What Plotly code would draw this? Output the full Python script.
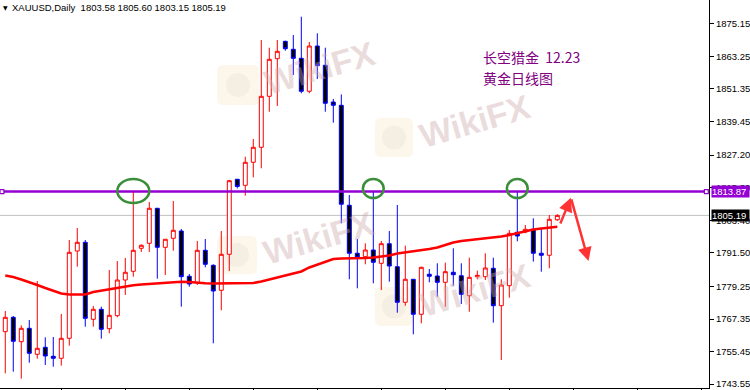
import plotly.graph_objects as go

# ---------------- data ----------------
title_text = "XAUUSD,Daily  1803.58 1805.60 1803.15 1805.19"
note_lines = ["长空猎金  12.23", "黄金日线图"]

opens = [1762.71, 1767.97, 1759.06, 1763.95, 1754.46, 1757.02, 1753.73, 1753.00, 1760.30, 1792.18,
         1795.36, 1767.24, 1770.89, 1763.81, 1768.56, 1781.59, 1784.77, 1793.17, 1795.00, 1807.78,
         1793.53, 1796.82, 1799.49, 1782.95, 1780.61, 1792.44, 1786.96, 1777.83, 1790.98, 1818.38,
         1816.17, 1824.58, 1830.06, 1848.68, 1862.41, 1868.76, 1865.85, 1862.56, 1850.52, 1867.05,
         1860.00, 1846.60, 1845.39, 1808.89, 1791.36, 1790.10, 1792.55, 1787.69, 1794.85, 1786.45,
         1773.45, 1781.85, 1769.07, 1783.68, 1783.05, 1780.75, 1784.41, 1783.16, 1775.86, 1782.80,
         1782.80, 1785.87, 1772.21, 1779.51, 1799.02, 1799.13, 1800.11, 1791.36, 1790.62, 1803.58]
highs = [1770.27, 1768.45, 1765.05, 1766.99, 1781.23, 1760.67, 1760.78, 1769.18, 1796.20, 1800.58,
         1796.20, 1772.10, 1771.84, 1785.25, 1788.53, 1789.63, 1813.80, 1794.60, 1810.08, 1807.90,
         1796.60, 1810.44, 1800.22, 1783.79, 1795.84, 1796.57, 1787.33, 1799.49, 1818.12, 1818.50,
         1826.62, 1833.09, 1869.23, 1866.43, 1869.23, 1868.98, 1871.07, 1877.75, 1868.51, 1871.69,
         1866.43, 1847.69, 1849.37, 1812.64, 1796.57, 1795.00, 1813.87, 1795.84, 1799.49, 1808.98,
         1794.12, 1781.90, 1786.45, 1785.61, 1787.69, 1787.91, 1793.17, 1787.69, 1789.74, 1784.99,
         1791.33, 1789.74, 1781.85, 1799.85, 1813.84, 1801.68, 1804.12, 1800.47, 1805.33, 1805.60]
lows = [1747.52, 1748.11, 1745.55, 1751.39, 1752.85, 1750.55, 1749.93, 1750.30, 1757.60, 1786.45,
        1764.54, 1764.54, 1760.16, 1762.13, 1767.97, 1776.12, 1782.80, 1791.84, 1791.84, 1782.07,
        1783.42, 1792.29, 1771.84, 1779.15, 1779.77, 1786.23, 1758.47, 1770.53, 1784.88, 1815.04,
        1812.38, 1819.09, 1822.39, 1843.06, 1845.14, 1865.33, 1856.47, 1849.79, 1849.79, 1855.01,
        1843.06, 1839.03, 1802.31, 1781.85, 1778.56, 1787.33, 1780.39, 1777.94, 1780.97, 1769.65,
        1772.21, 1761.76, 1765.78, 1780.75, 1775.50, 1771.84, 1779.51, 1772.83, 1770.02, 1781.85,
        1781.59, 1766.00, 1752.38, 1775.13, 1795.73, 1798.65, 1788.29, 1784.63, 1785.87, 1803.15]
closes = [1767.97, 1759.21, 1763.95, 1754.82, 1756.65, 1753.84, 1753.00, 1760.30, 1791.71, 1795.36,
          1767.61, 1770.89, 1763.59, 1768.70, 1781.59, 1784.41, 1792.44, 1794.26, 1807.78, 1793.53,
          1796.46, 1799.75, 1782.80, 1780.13, 1792.44, 1787.33, 1777.58, 1790.98, 1817.86, 1815.76,
          1824.58, 1830.06, 1848.68, 1862.19, 1865.11, 1866.06, 1862.56, 1850.52, 1867.05, 1859.86,
          1846.13, 1845.39, 1809.26, 1791.36, 1789.88, 1792.55, 1788.06, 1794.85, 1786.71, 1773.45,
          1781.85, 1769.07, 1786.23, 1782.95, 1780.75, 1784.63, 1783.53, 1776.37, 1782.58, 1783.31,
          1785.98, 1772.21, 1779.77, 1798.65, 1797.66, 1800.11, 1791.36, 1790.62, 1803.76, 1805.19]
ma_values = [1783.24, 1782.69, 1781.78, 1780.86, 1779.77, 1778.67, 1777.58, 1776.66, 1776.30, 1776.19,
             1776.30, 1777.21, 1777.76, 1778.20, 1778.85, 1779.40, 1779.69, 1779.95, 1780.13, 1780.39,
             1780.61, 1780.75, 1780.94, 1780.86, 1780.57, 1780.39, 1780.32, 1780.32, 1780.32, 1780.32,
             1780.39, 1780.50, 1781.05, 1781.78, 1782.32, 1783.05, 1783.97, 1784.70, 1786.16, 1787.25,
             1788.17, 1789.26, 1789.45, 1789.45, 1789.45, 1789.63, 1789.81, 1790.18, 1790.54, 1791.27,
             1791.64, 1792.00, 1792.37, 1792.91, 1793.46, 1794.38, 1795.29, 1795.84, 1796.20, 1796.49,
             1796.75, 1797.01, 1797.48, 1798.03, 1798.76, 1799.49, 1800.04, 1800.40, 1800.77, 1801.06]
candle_idx = list(range(len(opens)))

price_ticks = [1875.15, 1863.25, 1851.35, 1839.45, 1827.20, 1815.30, 1803.40,
               1791.50, 1779.25, 1767.35, 1755.45, 1743.55]
time_ticks = list(range(7, 88, 8))

resistance = 1813.87
last_price = 1805.19

# circles marking touches of resistance: (candle index, price centre, half-width idx, half-height price)
touch_marks = [(16, 1814.1, 2.0, 4.4), (46, 1815.0, 1.3, 3.5), (64, 1815.0, 1.3, 3.5)]
# projected path (candle index, price)
path_idx = [69.3, 70.7, 72.9]
path_price = [1801.7, 1811.6, 1788.5]

# ---------------- layout constants ----------------
W, H = 750, 390
ML, MR, MT, MB = 0, 41, 0, 2
PW, PH = W - ML - MR, H - MT - MB
X_RANGE = [-0.66, 87.96]
Y_RANGE = [1742.15, 1883.85]


def pp(px, py):
    return px / PW, 1 - py / PH


def rounded_rect(x0, y0, x1, y1, r):
    a = pp
    return ("M {} {} L {} {} Q {} {} {} {} L {} {} Q {} {} {} {} L {} {} Q {} {} {} {} L {} {} Q {} {} {} {} Z"
            .format(*a(x0 + r, y0), *a(x1 - r, y0), *a(x1, y0), *a(x1, y0 + r),
                    *a(x1, y1 - r), *a(x1, y1), *a(x1 - r, y1),
                    *a(x0 + r, y1), *a(x0, y1), *a(x0, y1 - r),
                    *a(x0, y0 + r), *a(x0, y0), *a(x0 + r, y0)))


fig = go.Figure()

fig.add_trace(go.Candlestick(
    x=candle_idx, open=opens, high=highs, low=lows, close=closes,
    increasing=dict(line=dict(color="#FF0000", width=1), fillcolor="#FFFFFF"),
    decreasing=dict(line=dict(color="#0000FF", width=1), fillcolor="#000000"),
    whiskerwidth=0, showlegend=False, hoverinfo="skip",
))

fig.add_trace(go.Scatter(
    x=candle_idx, y=ma_values, mode="lines",
    line=dict(color="#FF0000", width=2.5), showlegend=False, hoverinfo="skip",
))

shapes = []
annotations = []

# watermarks (logo box + text)
wm_logos = [(217, 65, 259, 105), (375, 118, 413, 157), (217, 236, 257, 274), (375, 287, 413, 326)]
for (x0, y0, x1, y1) in wm_logos:
    shapes.append(dict(type="path", xref="paper", yref="paper", layer="below",
                       path=rounded_rect(x0, y0, x1, y1, 6),
                       fillcolor="rgba(248,225,175,0.25)", line=dict(width=0)))
    cx, cy = (x0 + x1) / 2, (y0 + y1) / 2
    ax0, ay0 = pp(cx - 12, cy - 12)
    ax1, ay1 = pp(cx + 12, cy + 12)
    shapes.append(dict(type="circle", xref="paper", yref="paper", layer="below",
                       x0=ax0, y0=ay1, x1=ax1, y1=ay0,
                       fillcolor="rgba(190,170,170,0.12)", line=dict(width=0)))
    tx, ty = pp(cx + 81, cy - 17)
    annotations.append(dict(xref="paper", yref="paper", x=tx, y=ty, xanchor="center", yanchor="middle",
                            text="<b>WikiFX</b>", showarrow=False, textangle=-16,
                            font=dict(family="Liberation Sans", size=34, color="rgba(205,170,170,0.42)")))

# horizontal lines
shapes.append(dict(type="line", xref="paper", yref="y", x0=0, x1=1, y0=last_price, y1=last_price,
                   line=dict(color="#C0C0C0", width=1), layer="below"))
shapes.append(dict(type="line", xref="paper", yref="y", x0=0, x1=1, y0=resistance, y1=resistance,
                   line=dict(color="#9400D3", width=2.5), layer="above"))
for xe in (0.0, 0.9935):
    shapes.append(dict(type="rect", xref="paper", yref="y", x0=xe, x1=xe + 0.0055,
                       y0=resistance - 0.75, y1=resistance + 0.75,
                       fillcolor="#FFFFFF", line=dict(color="#9400D3", width=1.2), layer="above"))

# green ellipses
for (ci, cp, hw, hh) in touch_marks:
    shapes.append(dict(type="circle", xref="x", yref="y", x0=ci - hw, x1=ci + hw,
                       y0=cp - hh, y1=cp + hh, line=dict(color="#3A8E3A", width=2.5), layer="above"))

# red projection arrows
for k in range(len(path_idx) - 1):
    annotations.append(dict(x=path_idx[k + 1], y=path_price[k + 1], xref="x", yref="y",
                            ax=path_idx[k], ay=path_price[k], axref="x", ayref="y",
                            text="", showarrow=True, arrowhead=2, arrowsize=1.1,
                            arrowwidth=2.5, arrowcolor="#FF3333", standoff=0, startstandoff=0))

# title
annotations.append(dict(xref="paper", yref="paper", x=0, y=1, xanchor="left", yanchor="top",
                        xshift=1, yshift=-2, text="▼", showarrow=False,
                        font=dict(family="DejaVu Sans", size=6, color="#000000")))
annotations.append(dict(xref="paper", yref="paper", x=0, y=1, xanchor="left", yanchor="top",
                        xshift=10, yshift=0, text=title_text, showarrow=False,
                        font=dict(family="Liberation Sans", size=9.5, color="#000000")))

# chinese note
for j, line in enumerate(note_lines):
    nx, ny = pp(481, 57 + 21 * j)
    annotations.append(dict(xref="paper", yref="paper", x=nx, y=ny, xanchor="left", yanchor="middle",
                            text=line, showarrow=False,
                            font=dict(family="Noto Sans CJK SC", size=14, color="#800080")))

# price boxes on the axis
for val, bg in ((resistance, "#9400D3"), (last_price, "#000000")):
    annotations.append(dict(xref="paper", yref="y", x=1, y=val, xanchor="left", yanchor="middle",
                            xshift=2, text=f"{val:.2f}", showarrow=False, bgcolor=bg,
                            width=37, height=11, borderpad=0, align="left",
                            font=dict(family="Liberation Sans", size=9.5, color="#FFFFFF")))

fig.update_layout(
    width=W, height=H,
    margin=dict(l=ML, r=MR, t=MT, b=MB, autoexpand=False),
    paper_bgcolor="#FFFFFF", plot_bgcolor="#FFFFFF",
    shapes=shapes, annotations=annotations, showlegend=False,
    xaxis=dict(range=X_RANGE, showgrid=False, zeroline=False, showline=True, linecolor="#000000",
               linewidth=1, ticks="outside", ticklen=3, tickcolor="#000000", tickvals=time_ticks,
               showticklabels=False, rangeslider=dict(visible=False), fixedrange=True),
    yaxis=dict(range=Y_RANGE, side="right", showgrid=False, zeroline=False, showline=True,
               linecolor="#000000", linewidth=1, ticks="outside", ticklen=4, tickcolor="#000000",
               tickvals=price_ticks, ticktext=[f"{v:.2f}" for v in price_ticks],
               tickfont=dict(family="Liberation Sans", size=9.5, color="#000000"), fixedrange=True),
)

fig.write_html("out.html")
